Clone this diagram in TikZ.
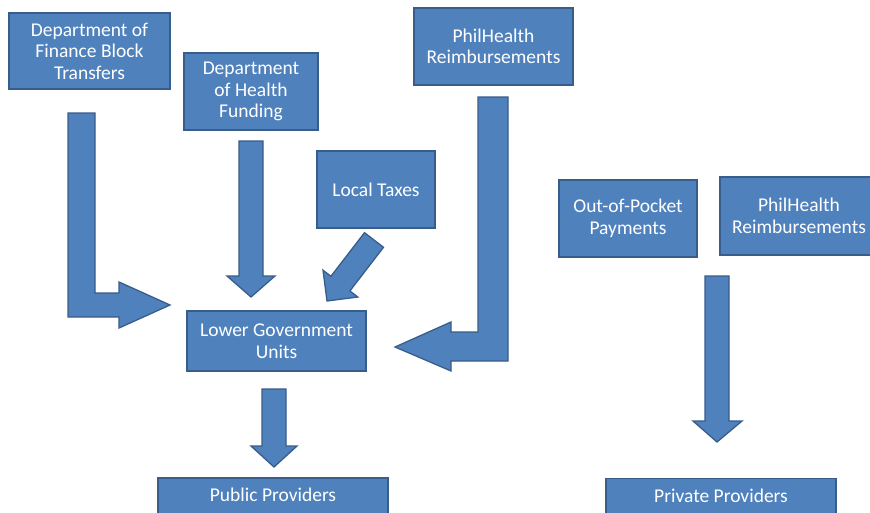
\documentclass[tikz,border=0pt]{standalone}
\usepackage{fontspec}
\setmainfont{Carlito}
\definecolor{boxfill}{HTML}{4F81BD}
\definecolor{boxline}{HTML}{385D8A}
\begin{document}
\begin{tikzpicture}[x=1pt,y=-1pt,
  box/.style={draw=boxline, fill=boxfill, line width=1.3pt, inner sep=0pt,
    text=white, align=center, font=\fontsize{19.5}{21.5}\selectfont},
  blockarrow/.style={draw=boxline, fill=boxfill, line width=1.3pt, line join=miter}]
\clip (0,0) rectangle (870,512);
\fill[white] (0,0) rectangle (870,512);
% boxes
\node[box, minimum width=161pt, minimum height=76pt] (dof) at (89.5,51) {Department of\\Finance Block\\Transfers};
\node[box, minimum width=134pt, minimum height=77pt] (doh) at (251,91.5) {Department\\of Health\\Funding};
\node[box, minimum width=118pt, minimum height=77pt] (tax) at (376,189.5) {Local Taxes};
\node[box, minimum width=159pt, minimum height=77pt] (ph1) at (493.5,46.5) {PhilHealth\\Reimbursements};
\node[box, minimum width=138pt, minimum height=77pt] (oop) at (628,218.5) {Out-of-Pocket\\Payments};
\node[box, minimum width=158pt, minimum height=78pt] (ph2) at (799,216) {PhilHealth\\Reimbursements};
\node[box, minimum width=179pt, minimum height=60pt] (lgu) at (276.5,341) {Lower Government\\Units};
\node[box, minimum width=230pt, minimum height=36pt] (pub) at (273,496) {\raisebox{2pt}{Public Providers}};
\node[box, minimum width=230pt, minimum height=36pt] (priv) at (721,496.5) {\raisebox{2pt}{Private Providers}};
% block arrows
\draw[blockarrow] (68,113) -- (95,113) -- (95,293) -- (119,293) -- (119,282) -- (170,305)
  -- (119,328) -- (119,317) -- (68,317) -- cycle;
\draw[blockarrow] (239,141) -- (263,141) -- (263,276) -- (275,276) -- (251,297) -- (227,276)
  -- (239,276) -- cycle;
\draw[blockarrow] (364.5,232.7) -- (330.9,276.3) -- (323.0,270.2) -- (327,301) -- (357.8,297.0)
  -- (349.9,290.9) -- (383.5,247.3) -- cycle;
\draw[blockarrow] (478,97) -- (508,97) -- (508,361) -- (451,361) -- (451,371) -- (395,347)
  -- (451,322) -- (451,332) -- (478,332) -- cycle;
\draw[blockarrow] (705,276) -- (729,276) -- (729,421) -- (742,421) -- (717,442) -- (693,421)
  -- (705,421) -- cycle;
\draw[blockarrow] (262,389) -- (286,389) -- (286,446) -- (297,446) -- (274,467) -- (251,446)
  -- (262,446) -- cycle;
\end{tikzpicture}
\end{document}
